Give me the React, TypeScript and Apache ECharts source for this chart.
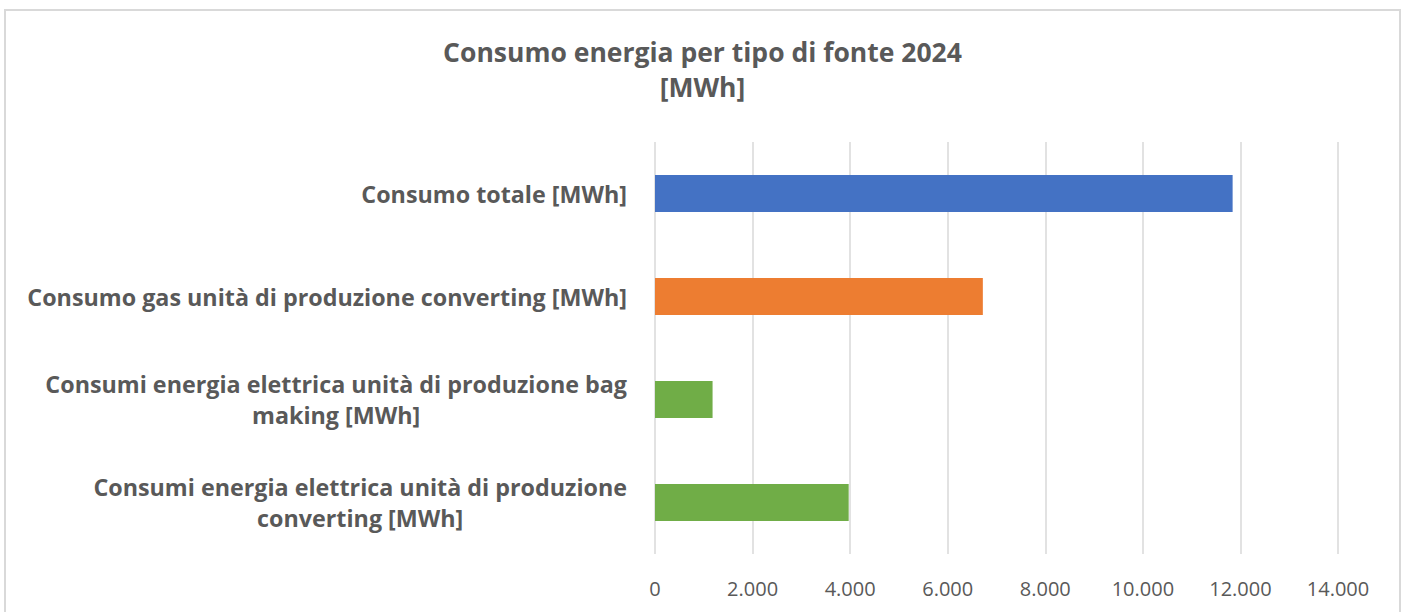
import React, { useEffect, useRef } from 'react';
import * as echarts from 'echarts';

const titleText = 'Consumo energia per tipo di fonte 2024\n[MWh]';
const categories = [
  'Consumi energia elettrica unità di produzione\nconverting [MWh]',
  'Consumi energia elettrica unità di produzione bag\nmaking [MWh]',
  'Consumo gas unità di produzione converting [MWh]',
  'Consumo totale [MWh]',
];
const values = [3970, 1180, 6720, 11840];
const barColors = ['#70AD47', '#70AD47', '#ED7D31', '#4472C4'];
const xMin = 0;
const xMax = 14000;
const xInterval = 2000;

const FONT = '"Open Sans", sans-serif';
const TEXT = '#595959';

const fmt = (v: number) => String(v).replace(/\B(?=(\d{3})+(?!\d))/g, '.');

export default function App() {
  const ref = useRef<HTMLDivElement>(null);
  useEffect(() => {
    if (!ref.current) return;
    const chart = echarts.init(ref.current, undefined, { renderer: 'svg' });
    chart.setOption({
      animation: false,
      backgroundColor: '#ffffff',
      title: {
        text: titleText,
        left: 'center',
        top: 29,
        textStyle: { fontFamily: FONT, fontSize: 26.5, fontWeight: 'bold', color: TEXT, lineHeight: 35 },
      },
      graphic: [
        {
          type: 'rect',
          shape: { x: 5, y: 10, width: 1395, height: 640 },
          style: { fill: 'none', stroke: '#d9d9d9', lineWidth: 2 },
          silent: true,
        },
      ],
      grid: { left: 655, right: 67, top: 142, bottom: 58 },
      xAxis: {
        type: 'value',
        min: xMin,
        max: xMax,
        interval: xInterval,
        axisLine: { show: false },
        axisTick: { show: false },
        splitLine: { lineStyle: { color: '#d9d9d9', width: 1.5 } },
        axisLabel: {
          formatter: (v: number) => fmt(v),
          fontFamily: FONT,
          fontSize: 20,
          color: TEXT,
          margin: 24,
        },
      },
      yAxis: {
        type: 'category',
        data: categories,
        axisLine: { show: false },
        axisTick: { show: false },
        axisLabel: {
          margin: 28,
          formatter: (v: string) => v.split('\n').map((l) => `{c|${l}}`).join('\n'),
          rich: {
            c: { align: 'center', fontFamily: FONT, fontSize: 23.3, fontWeight: 'bold', color: TEXT, lineHeight: 31 },
          },
        },
      },
      series: [
        {
          type: 'bar',
          barWidth: 37,
          data: values.map((v, i) => ({ value: v, itemStyle: { color: barColors[i] } })),
        },
      ],
    });
    return () => chart.dispose();
  }, []);
  return (
    <div
      ref={ref}
      style={{ position: 'absolute', left: 0, top: 0, width: 1405, height: 612, background: '#fff' }}
    />
  );
}
